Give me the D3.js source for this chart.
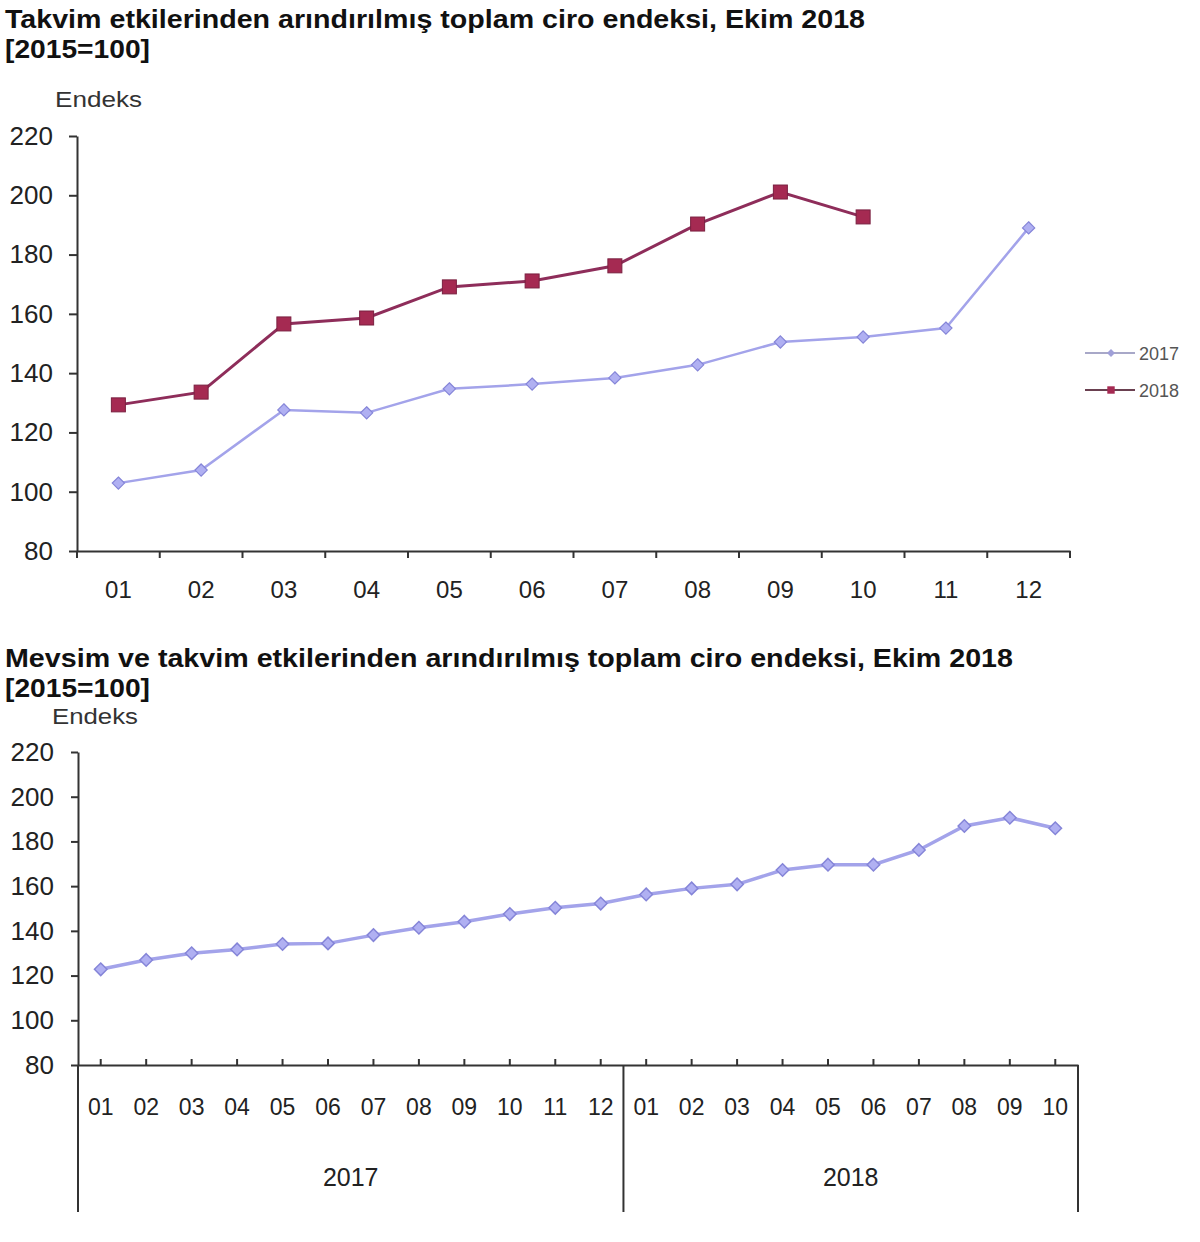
<!DOCTYPE html>
<html>
<meta charset="utf-8" />
<head>
<title>Ciro endeksi</title>
<style>
body { margin: 0; background: #fff; }
svg { display: block; }
svg text { font-family: "Liberation Sans", Arial, sans-serif; fill: #222; }
.axis path, .axis line { stroke: #333; stroke-width: 2px; }
.axis text { font-family: "Liberation Sans", Arial, sans-serif; fill: #222; }
.title { font-weight: bold; font-size: 25px; fill: #111; }
</style>
<script src="https://d3js.org/d3.v7.min.js" charset="utf-8"></script>
</head>
<body>
<svg class="chart" width="1200" height="1242"></svg>

<script>
/********
 * Data *
 ********/

var months = ["01","02","03","04","05","06","07","08","09","10","11","12"];
var yTicks = [80, 100, 120, 140, 160, 180, 200, 220];

// takvim etkilerinden arındırılmış
var ciro2017 = [102.9, 107.3, 127.6, 126.6, 134.7, 136.3, 138.4, 142.8, 150.5, 152.2, 155.2, 189.0];
var ciro2018 = [129.3, 133.6, 156.6, 158.6, 169.1, 171.1, 176.2, 190.3, 201.1, 192.7];

// mevsim ve takvim etkilerinden arındırılmış, 2017-01 .. 2018-10
var years = ["2017", "2018"];
var months2018 = ["01","02","03","04","05","06","07","08","09","10"];
var mevsim = [122.8, 127.0, 130.0, 131.7, 134.1, 134.4, 138.1, 141.4, 144.1, 147.5, 150.3, 152.2,
              156.3, 159.0, 160.8, 167.2, 169.6, 169.6, 176.2, 186.9, 190.6, 185.9];

var col2017 = "#a3a3ea", col2017Dark = "#8585d8";
var col2018 = "#8e2d5a", col2018Mark = "#a52a52";

var svg = d3.select(".chart");

/***********
 * Chart 1 *
 ***********/

svg.append("text").attr("class","title").attr("x",5).attr("y",28)
    .attr("textLength",860).attr("lengthAdjust","spacingAndGlyphs")
    .style("font-size","26px")
    .text("Takvim etkilerinden arındırılmış toplam ciro endeksi, Ekim 2018");
svg.append("text").attr("class","title").attr("x",5).attr("y",58)
    .attr("textLength",145).attr("lengthAdjust","spacingAndGlyphs")
    .style("font-size","26px")
    .text("[2015=100]");
svg.append("text").attr("x",55).attr("y",107).style("font-size","22px").style("fill","#333")
    .attr("textLength",87).attr("lengthAdjust","spacingAndGlyphs")
    .text("Endeks");

var x1 = d3.scaleBand().domain(months).range([77,1070]);
var y1 = d3.scaleLinear().domain([80,220]).range([551,136]);

var g1 = svg.append("g");

g1.append("g").attr("class","axis")
    .attr("transform","translate(77,0)")
    .call(d3.axisLeft(y1).tickValues(yTicks).tickSizeInner(8).tickSizeOuter(0).tickPadding(16))
    .selectAll("text").style("font-size","26px");

var xAx1 = g1.append("g").attr("class","axis")
    .attr("transform","translate(0,551)")
    .call(d3.axisBottom(x1).tickSize(0).tickPadding(30));
xAx1.selectAll("text").style("font-size","24px");

// ticks between the months
xAx1.selectAll(".btick")
    .data(d3.range(months.length + 1))
  .enter().append("line")
    .attr("class","btick")
    .attr("x1",function(i){ return 77 + i * x1.bandwidth(); })
    .attr("x2",function(i){ return 77 + i * x1.bandwidth(); })
    .attr("y1",0).attr("y2",7);

function cx1(d,i){ return x1(months[i]) + x1.bandwidth()/2; }

var line1 = d3.line().x(cx1).y(function(d){ return y1(d); });

g1.append("path").datum(ciro2017)
    .attr("d",line1).attr("fill","none")
    .attr("stroke",col2017).attr("stroke-width",2.5);

g1.selectAll(".d17").data(ciro2017).enter().append("path")
    .attr("class","d17")
    .attr("d",d3.symbol().type(d3.symbolDiamond2).size(95))
    .attr("transform",function(d,i){ return "translate(" + cx1(d,i) + "," + y1(d) + ")"; })
    .attr("fill","#b0b0f2").attr("stroke",col2017Dark).attr("stroke-width",1.2);

g1.append("path").datum(ciro2018)
    .attr("d",line1).attr("fill","none")
    .attr("stroke",col2018).attr("stroke-width",3);

g1.selectAll(".s18").data(ciro2018).enter().append("rect")
    .attr("class","s18")
    .attr("x",function(d,i){ return cx1(d,i) - 7; })
    .attr("y",function(d){ return y1(d) - 7; })
    .attr("width",14).attr("height",14)
    .attr("fill",col2018Mark).attr("stroke","#7a2040").attr("stroke-width",1);

// legend
var legend = g1.selectAll(".legend")
    .data(["2017","2018"])
  .enter().append("g")
    .attr("class","legend")
    .attr("transform",function(d,i){ return "translate(0," + (353 + i * 37) + ")"; });

legend.append("line")
    .attr("x1",1085).attr("x2",1135).attr("y1",0).attr("y2",0)
    .attr("stroke",function(d){ return d === "2017" ? "#a8a8c8" : "#6a4050"; })
    .attr("stroke-width",2);

legend.append("path")
    .attr("d",function(d){
      return d === "2017" ? d3.symbol().type(d3.symbolDiamond2).size(40)()
                          : d3.symbol().type(d3.symbolSquare2).size(70)();
    })
    .attr("transform","translate(1111,0)")
    .attr("fill",function(d){ return d === "2017" ? "#a0a0d8" : col2018Mark; })
    .attr("stroke","none");

legend.append("text")
    .attr("x",1139).attr("y",7)
    .style("font-size","18px").style("fill","#555")
    .text(function(d){ return d; });

/***********
 * Chart 2 *
 ***********/

svg.append("text").attr("class","title").attr("x",5).attr("y",667)
    .attr("textLength",1008).attr("lengthAdjust","spacingAndGlyphs")
    .style("font-size","26px")
    .text("Mevsim ve takvim etkilerinden arındırılmış toplam ciro endeksi, Ekim 2018");
svg.append("text").attr("class","title").attr("x",5).attr("y",697)
    .attr("textLength",145).attr("lengthAdjust","spacingAndGlyphs")
    .style("font-size","26px")
    .text("[2015=100]");
svg.append("text").attr("x",52).attr("y",724).style("font-size","22px").style("fill","#333")
    .attr("textLength",86).attr("lengthAdjust","spacingAndGlyphs")
    .text("Endeks");

var periods = months.map(function(m){ return "2017-" + m; })
    .concat(months2018.map(function(m){ return "2018-" + m; }));

var x2 = d3.scaleBand().domain(periods).range([78,1078]);
var y2 = d3.scaleLinear().domain([80,220]).range([1065,752]);

var g2 = svg.append("g");

g2.append("g").attr("class","axis")
    .attr("transform","translate(78,0)")
    .call(d3.axisLeft(y2).tickValues(yTicks).tickSizeInner(7).tickSizeOuter(0).tickPadding(17))
    .selectAll("text").style("font-size","26px");

var xAx2 = g2.append("g").attr("class","axis")
    .attr("transform","translate(0,1065)")
    .call(d3.axisBottom(x2).tickSizeInner(-6).tickSizeOuter(0).tickPadding(34)
      .tickFormat(function(d){ return d.slice(5); }));
xAx2.selectAll("text").style("font-size","23px");

// year separators
var yearEdges = [periods[0], "2018-01"];
xAx2.selectAll(".sep")
    .data(yearEdges.concat(["end"]))
  .enter().append("line")
    .attr("class","sep")
    .attr("x1",function(d){ return d === "end" ? x2.range()[1] : x2(d); })
    .attr("x2",function(d){ return d === "end" ? x2.range()[1] : x2(d); })
    .attr("y1",0).attr("y2",147);

xAx2.selectAll(".year")
    .data(years)
  .enter().append("text")
    .attr("class","year")
    .attr("x",function(d,i){
      var a = x2(yearEdges[i]);
      var b = i < yearEdges.length - 1 ? x2(yearEdges[i+1]) : x2.range()[1];
      return (a + b) / 2;
    })
    .attr("y",121)
    .attr("text-anchor","middle")
    .style("font-size","25px")
    .text(function(d){ return d; });

function cx2(d,i){ return x2(periods[i]) + x2.bandwidth()/2; }

g2.append("path").datum(mevsim)
    .attr("d",d3.line().x(cx2).y(function(d){ return y2(d); }))
    .attr("fill","none")
    .attr("stroke",col2017).attr("stroke-width",3.5);

g2.selectAll(".dm").data(mevsim).enter().append("path")
    .attr("class","dm")
    .attr("d",d3.symbol().type(d3.symbolDiamond2).size(100))
    .attr("transform",function(d,i){ return "translate(" + cx2(d,i) + "," + y2(d) + ")"; })
    .attr("fill","#b0b0f2").attr("stroke",col2017Dark).attr("stroke-width",1.5);

</script>
</body>
</html>
